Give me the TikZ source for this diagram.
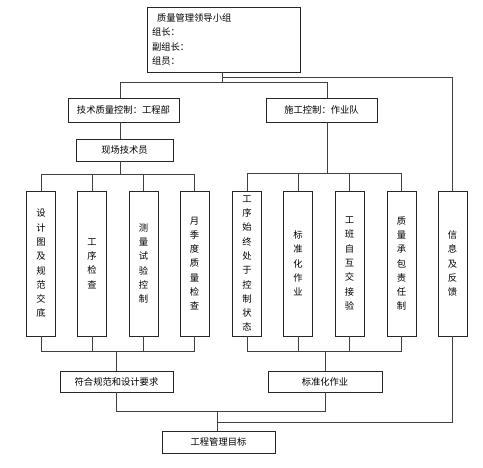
\documentclass[tikz,border=0pt]{standalone}
\usepackage{fontspec}
\newfontfamily\cjk{Noto Sans CJK SC}
\begin{document}
\begin{tikzpicture}[x=1pt,y=-1pt,
  box/.style={draw=black!85, line width=0.7pt, fill=white, inner sep=0pt,
    font=\cjk\fontsize{9.3}{14.3}\selectfont, align=center},
  vbox/.style={box, minimum width=29pt, minimum height=145pt},
  line/.style={draw=black!75, line width=0.6pt}]
\useasboundingbox (0,0) rectangle (483,467);
\fill[white] (0,0) rectangle (483,467);
% nodes
\node[box, minimum width=153pt, minimum height=65pt, align=left, text width=143pt]
  (lead) at (223.5,39.5) {\hspace*{5pt}质量管理领导小组\\组长：\\副组长：\\组员：};
\node[box, minimum width=111pt, minimum height=24pt] (tech) at (123.5,110) {技术质量控制：工程部};
\node[box, minimum width=111pt, minimum height=24pt] (con) at (321.5,110) {施工控制：作业队};
\node[box, minimum width=97pt, minimum height=22pt] (site) at (124.5,150) {现场技术员};
\node[vbox] (v1) at (41,263.5) {设\\计\\图\\及\\规\\范\\交\\底};
\node[vbox] (v2) at (92,263.5) {工\\序\\检\\查};
\node[vbox] (v3) at (143.5,263.5) {测\\量\\试\\验\\控\\制};
\node[vbox] (v4) at (194.5,263.5) {月\\季\\度\\质\\量\\检\\查};
\node[vbox] (v5) at (247,263.5) {工\\序\\始\\终\\处\\于\\控\\制\\状\\态};
\node[vbox] (v6) at (298,263.5) {标\\准\\化\\作\\业};
\node[vbox] (v7) at (349.5,263.5) {工\\班\\自\\互\\交\\接\\验};
\node[vbox] (v8) at (401.5,263.5) {质\\量\\承\\包\\责\\任\\制};
\node[vbox] (v9) at (452.5,263.5) {信\\息\\及\\反\\馈};
\node[box, minimum width=113pt, minimum height=21pt] (fit) at (116.5,381.5) {符合规范和设计要求};
\node[box, minimum width=114pt, minimum height=21pt] (std) at (325,381.5) {标准化作业};
\node[box, minimum width=113pt, minimum height=22pt] (goal) at (218.5,442) {工程管理目标};
% connectors
\draw[line] ([xshift=-1.5pt]lead.south) -- ++(0,11);
\draw[line] ([xshift=-3.5pt]tech.north) -- ++(0,-15) -| ([xshift=5.5pt]con.north);
\draw[line] ([xshift=-1.5pt,yshift=-5pt]lead.south) -| (v9.north);
\draw[line] ([xshift=-3.5pt]tech.south) -- ([xshift=-4.5pt]site.north);
\draw[line] ([xshift=-4.5pt]site.south) -- ++(0,14);
\draw[line] (v1.north) -- ++(0,-16) -| (v4.north);
\draw[line] (v2.north) -- ++(0,-16);
\draw[line] (v3.north) -- ++(0,-16);
\draw[line] ([xshift=5.5pt]con.south) -- ++(0,52);
\draw[line] (v5.north) -- ++(0,-17) -| (v8.north);
\draw[line] (v6.north) -- ++(0,-17);
\draw[line] (v7.north) -- ++(0,-17);
\draw[line] (v1.south) -- ++(0,15) -| (v4.south);
\draw[line] (v2.south) -- ++(0,15);
\draw[line] (v3.south) -- ++(0,15);
\draw[line] (fit.north) -- ++(0,-20);
\draw[line] (v5.south) -- ++(0,15) -| (v8.south);
\draw[line] (v6.south) -- ++(0,15);
\draw[line] (v7.south) -- ++(0,15);
\draw[line] (std.north) -- ++(0,-20);
\draw[line] (fit.south) -- ++(0,19) -| (std.south);
\draw[line] ([xshift=-1.5pt]goal.north) -- ++(0,-20);
\draw[line] (v9.south) -- ++(0,86) -| ([xshift=-1.5pt]goal.north);
\end{tikzpicture}
\end{document}
